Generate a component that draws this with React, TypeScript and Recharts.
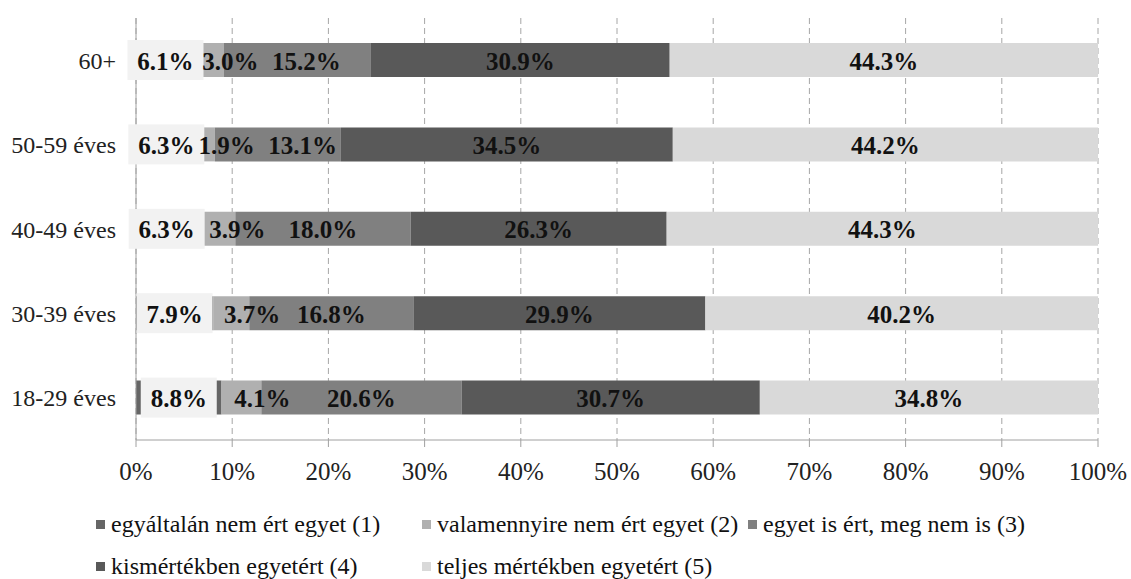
import React from "react";
import { BarChart, Bar, XAxis, YAxis, CartesianGrid, LabelList, Legend } from "recharts";

const categories = ["60+", "50-59 éves", "40-49 éves", "30-39 éves", "18-29 éves"];
const seriesNames = [
  "egyáltalán nem ért egyet (1)",
  "valamennyire nem ért egyet (2)",
  "egyet is ért, meg nem is (3)",
  "kismértékben egyetért (4)",
  "teljes mértékben egyetért (5)",
];
const s1 = [6.1, 6.3, 6.3, 7.9, 8.8];
const s2 = [3.0, 1.9, 3.9, 3.7, 4.1];
const s3 = [15.2, 13.1, 18.0, 16.8, 20.6];
const s4 = [30.9, 34.5, 26.3, 29.9, 30.7];
const s5 = [44.3, 44.2, 44.3, 40.2, 34.8];
const xTicks = [0, 0.1, 0.2, 0.3, 0.4, 0.5, 0.6, 0.7, 0.8, 0.9, 1];
const edgeTicks = [0, 1, 2, 3, 4, 5];

const colors = ["#666666", "#b0b0b0", "#808080", "#595959", "#d9d9d9"];
const keys = ["s1", "s2", "s3", "s4", "s5"];

const data = categories.map((name, i) => ({
  name,
  s1: s1[i],
  s2: s2[i],
  s3: s3[i],
  s4: s4[i],
  s5: s5[i],
}));

const font = "'Liberation Serif', 'Times New Roman', serif";
const fmt = (v: number) => `${Number(v).toFixed(1)}%`;
const SHIFT2 = 21; // labels of series 2 sit a bit right of their segment
const MIN_GAP_23 = 76; // keep series 3 label clear of series 2 label

const makeLabel = (si: number) => (props: any) => {
  const { x, y, width, height, value, index } = props;
  const w = Number(width);
  let cx = Number(x) + w / 2;
  if (si === 1) cx += SHIFT2;
  if (si === 2) {
    const unit = w / s3[index];
    const prevCenter = Number(x) - (s2[index] * unit) / 2 + SHIFT2;
    cx = Math.max(cx, prevCenter + MIN_GAP_23);
  }
  const cy = Number(y) + Number(height) / 2;
  return (
    <g>
      {si === 0 && <rect x={cx - 38} y={cy - 20} width={76} height={40} fill="#f2f2f2" />}
      <text
        x={cx}
        y={cy + 1}
        textAnchor="middle"
        dominantBaseline="central"
        fontFamily={font}
        fontWeight="bold"
        fontSize={25}
        fill="#111"
      >
        {fmt(value)}
      </text>
    </g>
  );
};

const LegendBox = () => (
  <div style={{ width: 1131, height: 90, position: "relative" }}>
    {seriesNames.map((n, i) => (
      <div
        key={n}
        style={{
          position: "absolute",
          left: 96 + (i % 3) * 326,
          top: 21 + Math.floor(i / 3) * 42,
          display: "flex",
          alignItems: "center",
          whiteSpace: "nowrap",
          lineHeight: "28px",
        }}
      >
        <span style={{ display: "inline-block", width: 9, height: 9, background: colors[i], marginRight: 6 }} />
        <span style={{ fontFamily: font, fontSize: 24, color: "#111" }}>{n}</span>
      </div>
    ))}
  </div>
);

export default function App() {
  return (
    <div style={{ position: "absolute", left: 0, top: 0 }}>
      <BarChart
        width={1131}
        height={579}
        data={data}
        layout="vertical"
        stackOffset="expand"
        barSize={34}
        margin={{ top: 18, right: 33, left: 0, bottom: 0 }}
      >
        <CartesianGrid horizontal={false} stroke="#a6a6a6" strokeDasharray="6 4" />
        <XAxis
          type="number"
          domain={[0, 1]}
          ticks={xTicks}
          tickFormatter={(v) => `${Math.round(v * 100)}%`}
          axisLine={{ stroke: "#a0a0a0" }}
          tickLine={{ stroke: "#a0a0a0" }}
          tickSize={7}
          tickMargin={15}
          height={49}
          interval={0}
          tick={{ fontFamily: font, fontSize: 25, fill: "#222" }}
        />
        <YAxis
          yAxisId="edges"
          type="number"
          domain={[0, 5]}
          ticks={edgeTicks}
          width={0}
          axisLine={false}
          tickLine={{ stroke: "#a0a0a0" }}
          tickSize={9}
          tickFormatter={() => ""}
          interval={0}
        />
        <YAxis
          type="category"
          dataKey="name"
          width={136}
          axisLine={{ stroke: "#a0a0a0" }}
          tickLine={false}
          tickSize={8}
          tickMargin={12}
          tick={{ fontFamily: font, fontSize: 24, fill: "#222" }}
        />
        <Legend verticalAlign="bottom" content={<LegendBox />} wrapperStyle={{ fontFamily: font }} />
        {keys.map((k, i) => (
          <Bar key={k} dataKey={k} name={seriesNames[i]} stackId="a" fill={colors[i]} isAnimationActive={false}>
            <LabelList dataKey={k} content={makeLabel(i)} />
          </Bar>
        ))}
      </BarChart>
    </div>
  );
}
